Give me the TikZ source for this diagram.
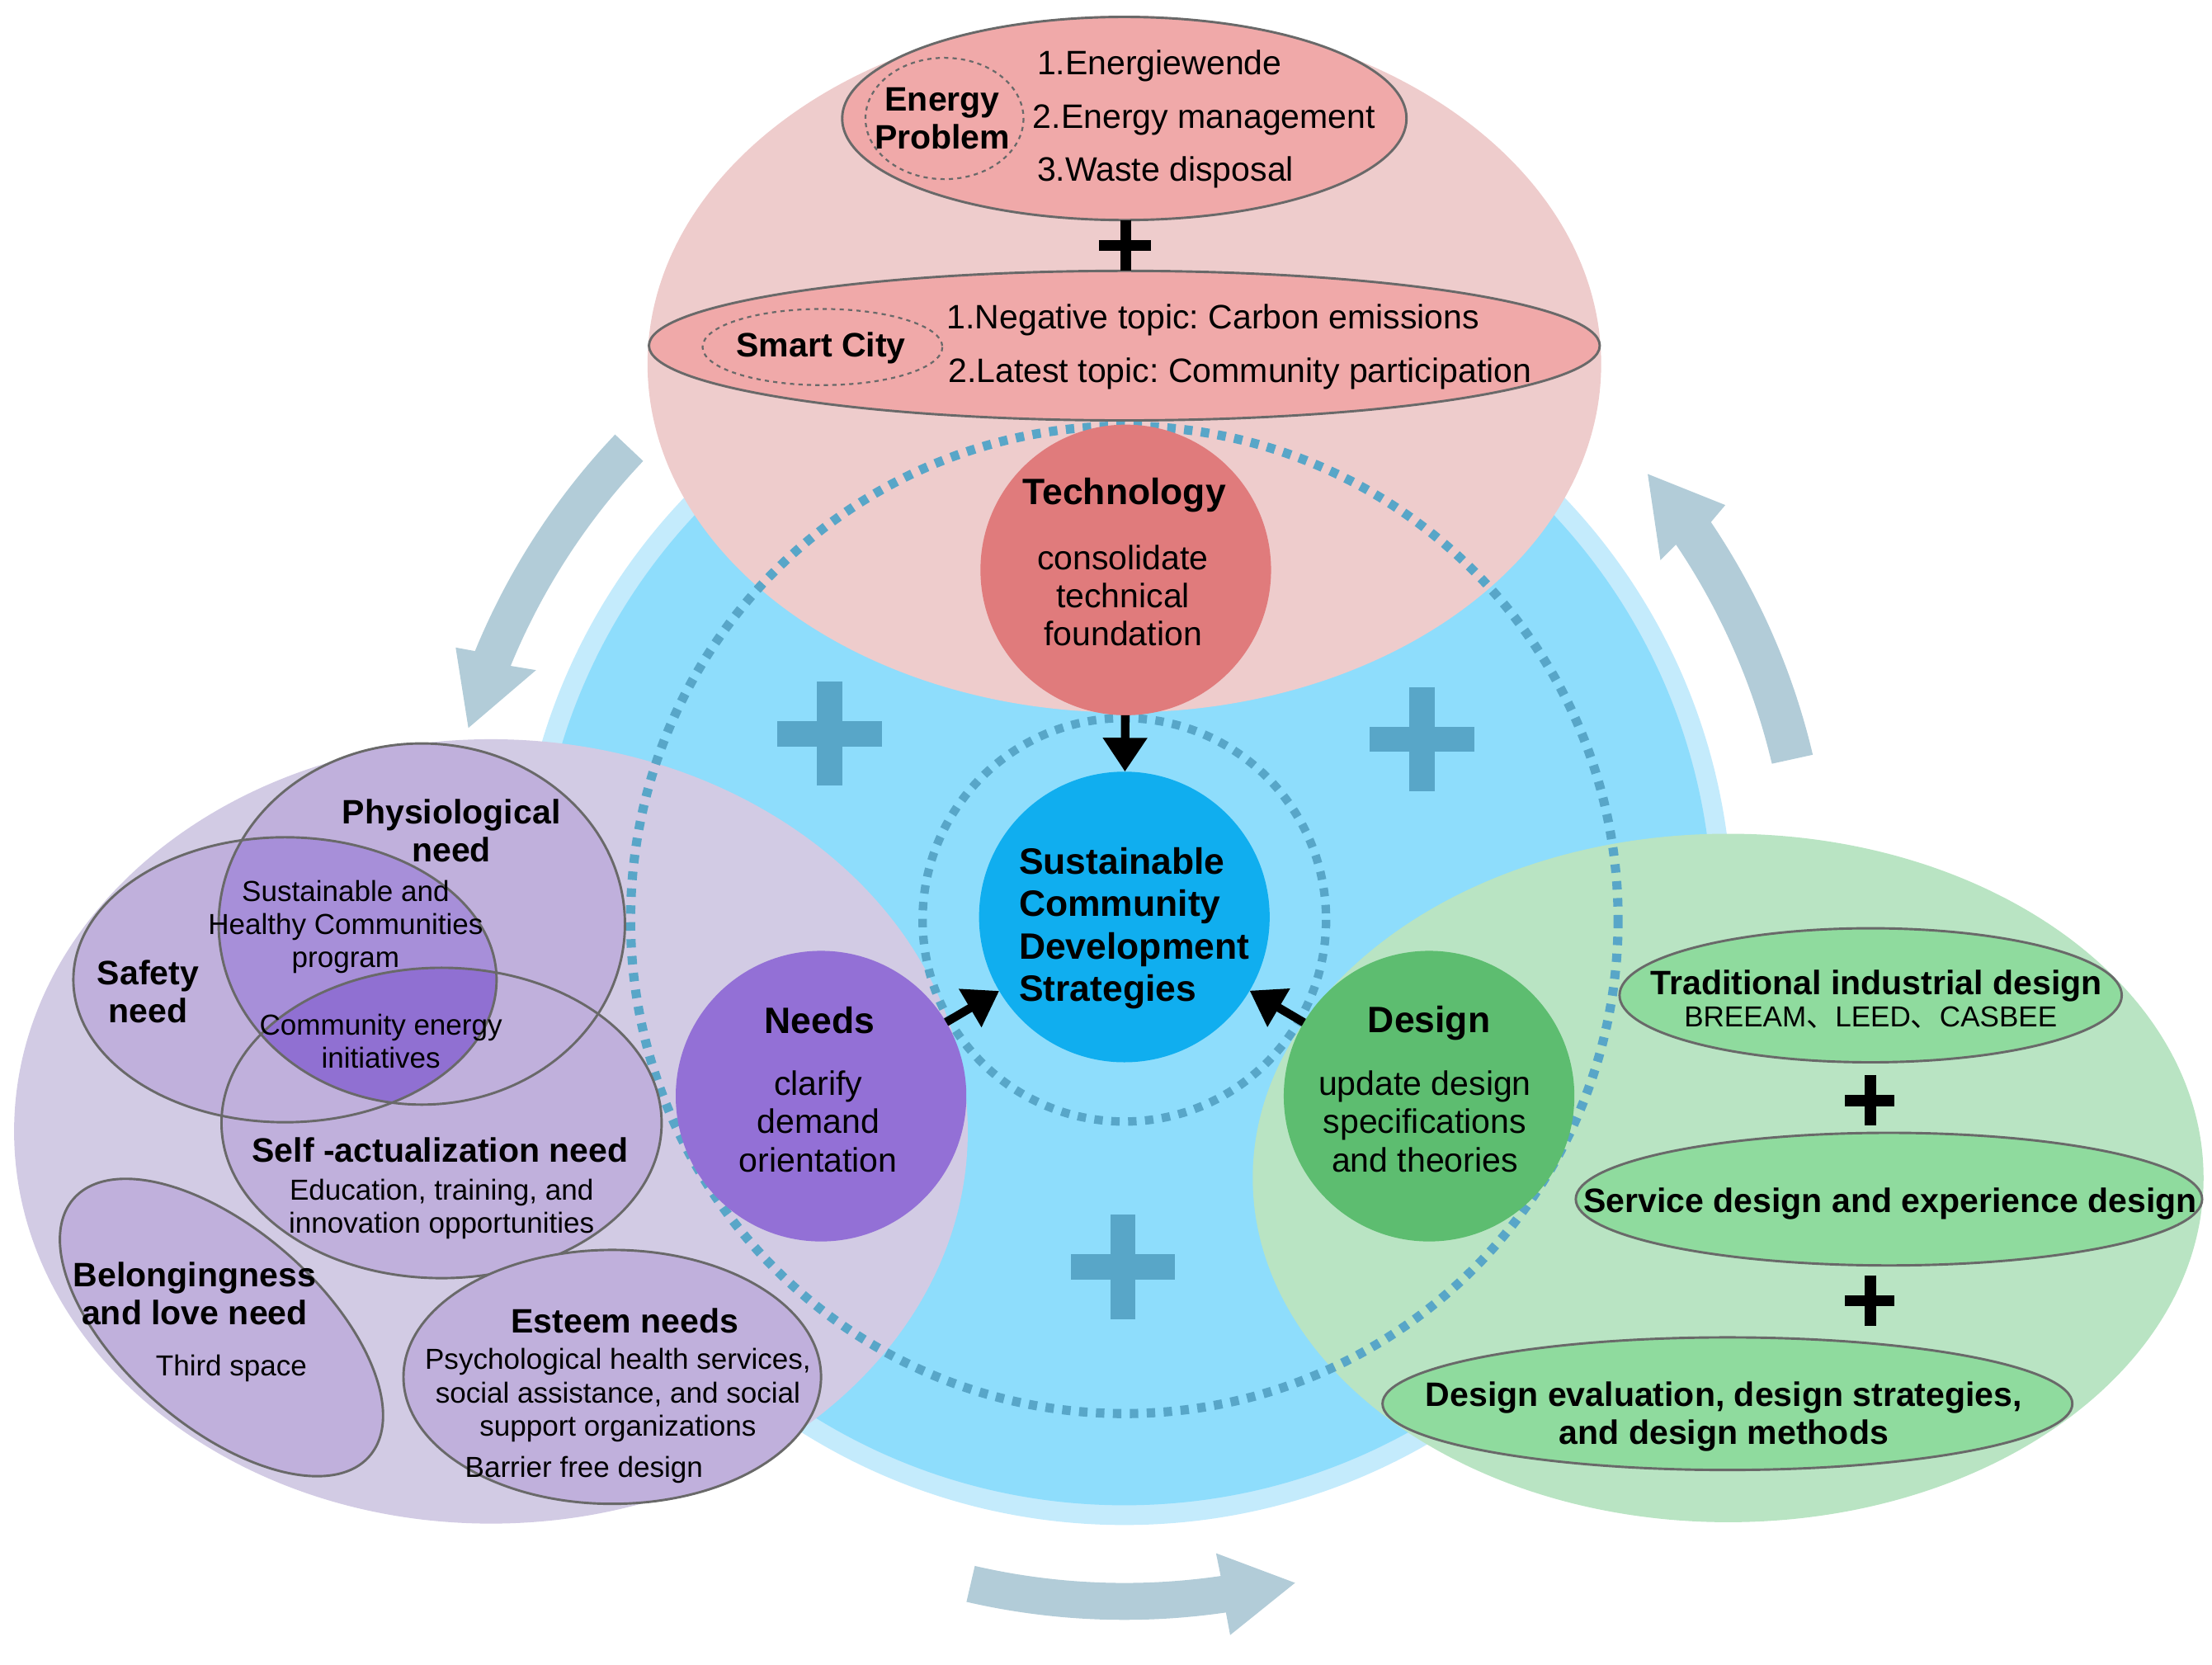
\documentclass[tikz,border=0pt]{standalone}
\usepackage{fontspec}
\setmainfont{Liberation Sans}
\newfontfamily\cjk{Noto Sans CJK SC}
\usetikzlibrary{arrows.meta}
\AtBeginDocument{\frenchspacing}
\definecolor{ringlight}{HTML}{C4EBFC}
\definecolor{ringblue}{HTML}{8EDDFC}
\definecolor{dotblue}{HTML}{58A6C8}
\definecolor{cyclegrey}{HTML}{B2CCD8}
\definecolor{corblue}{HTML}{10AEEF}
\definecolor{pinkbig}{HTML}{EECCCC}
\definecolor{pinksub}{HTML}{F0A9A9}
\definecolor{pinkhub}{HTML}{E07B7C}
\definecolor{lilacbig}{HTML}{D2CBE4}
\definecolor{lilacsub}{HTML}{C0B0DC}
\definecolor{lilacmid}{HTML}{A78FD9}
\definecolor{lilacdark}{HTML}{9070D2}
\definecolor{lilachub}{HTML}{9370D6}
\definecolor{greenbig}{HTML}{B9E4C3}
\definecolor{greensub}{HTML}{8FDB9E}
\definecolor{greenhub}{HTML}{5DBD70}
\definecolor{edge}{HTML}{696969}
\tikzset{
	hub/.style={circle,minimum size=206pt,inner sep=0pt,outer sep=0pt},
	rim/.style={draw=edge,line width=1.7pt},
	thindash/.style={draw=edge,line width=1.3pt,dash pattern=on 3pt off 3pt},
	cycle arrow/.style={fill=cyclegrey},
	bigplus/.style={draw=dotblue,line width=18pt},
	smallplus/.style={draw=black,line width=8pt},
	pointer/.style={line width=6pt,-{Triangle[width=30pt,length=24pt]}},
	txt/.style={inner sep=0pt,align=center,font=\fontsize{24}{27}\selectfont},
	small/.style={inner sep=0pt,align=center,font=\fontsize{20.5}{23.5}\selectfont},
	head/.style={inner sep=0pt,align=center,font=\fontsize{24}{27}\selectfont\bfseries},
	title/.style={inner sep=0pt,align=center,font=\fontsize{26}{30}\selectfont\bfseries},
}
\begin{document}
\begin{tikzpicture}[x=1pt,y=-1pt]
	\useasboundingbox (0,0) rectangle (1568,1180);
	\fill[ringlight] (797,650) circle[radius=431];
	\fill[ringblue] (797,650) circle[radius=417];
	\fill[cycle arrow] (436,308) arc[start angle=223.5, end angle=202.3, radius=497] -- (323,459) -- (332,516) -- (380,475) -- (362,472) arc[start angle=202.3, end angle=223.5, radius=470] -- cycle;
	\fill[cycle arrow] (1285,535) arc[start angle=-13.3, end angle=-34, radius=501] -- (1223,358) -- (1168,336) -- (1177,397) -- (1188,386) arc[start angle=-34, end angle=-13.3, radius=472] -- cycle;
	\fill[cycle arrow] (691,1110) arc[start angle=103, end angle=81.7, radius=472] -- (862,1101) -- (918,1122) -- (872,1159) -- (869,1143) arc[start angle=81.7, end angle=103, radius=498] -- cycle;
	\foreach \x/\y in {588/520,1008/524,796/898} {
		\draw[bigplus] (\x-37,\y) -- (\x+37,\y);
		\draw[bigplus] (\x,\y-37) -- (\x,\y+37);
	}
	\fill[pinkbig] (797,258) ellipse[x radius=338, y radius=247];
	\fill[lilacbig] (348,802) ellipse[x radius=338, y radius=278];
	\fill[greenbig] (1225,835) ellipse[x radius=337, y radius=244];
	\draw[dotblue,line width=6.5pt,dash pattern=on 6pt off 6pt] (797,652) circle[radius=350];
	\draw[dotblue,line width=6pt,dash pattern=on 6pt off 6pt] (797,652) circle[radius=143];

	\path[rim,fill=pinksub] (797,84) ellipse[x radius=200, y radius=72];
	\path[thindash] (669.5,84) ellipse[x radius=56, y radius=43];
	\path[rim,fill=pinksub] (797,245) ellipse[x radius=337, y radius=53];
	\path[thindash] (583,246) ellipse[x radius=85, y radius=27];
	\draw[smallplus] (779,174) -- (816,174);
	\draw[smallplus] (798,156) -- (798,192);

	\fill[lilacsub] (299,655) ellipse[x radius=144, y radius=128];
	\fill[lilacsub] (202,694.5) ellipse[x radius=150, y radius=101];
	\fill[lilacsub] (313,796) ellipse[x radius=156, y radius=110];
	\begin{scope}
		\clip (299,655) ellipse[x radius=144, y radius=128];
		\fill[lilacmid] (202,694.5) ellipse[x radius=150, y radius=101];
		\clip (202,694.5) ellipse[x radius=150, y radius=101];
		\fill[lilacdark] (313,796) ellipse[x radius=156, y radius=110];
	\end{scope}
	\draw[rim] (299,655) ellipse[x radius=144, y radius=128];
	\draw[rim] (202,694.5) ellipse[x radius=150, y radius=101];
	\draw[rim] (313,796) ellipse[x radius=156, y radius=110];
	\path[rim,fill=lilacsub,rotate around={-41:(157,941)}] (157,941) ellipse[x radius=139, y radius=70];
	\path[rim,fill=lilacsub] (434,976) ellipse[x radius=148, y radius=90];

	\path[rim,fill=greensub] (1326,705.5) ellipse[x radius=178, y radius=47.5];
	\path[rim,fill=greensub] (1339,850) ellipse[x radius=222, y radius=47];
	\path[rim,fill=greensub] (1224.5,995) ellipse[x radius=244.5, y radius=47];
	\foreach \y in {780,922} {
		\draw[smallplus] (1308,\y) -- (1343,\y);
		\draw[smallplus] (1326,\y-18) -- (1326,\y+18);
	}

	\node[hub,fill=pinkhub] (tech) at (798,404) {};
	\node[hub,fill=corblue] (core) at (797,650) {};
	\node[hub,fill=lilachub] (needs) at (582,777) {};
	\node[hub,fill=greenhub] (design) at (1013,777) {};
	\draw[pointer] (tech) -- (core);
	\draw[pointer] (needs) -- (core);
	\draw[pointer] (design) -- (core);

	\node[head] (energyname) at (668,84) {Energy\\Problem};
	\node[txt,anchor=west] (energy1) at (735,47) {1.Energiewende};
	\node[txt,anchor=west] (energy2) at (732,85) {2.Energy management};
	\node[txt,anchor=west] (energy3) at (735,122) {3.Waste disposal};
	\node[head] (smartname) at (582,247) {Smart City};
	\node[txt,anchor=west] (smart1) at (671,227) {1.Negative topic: Carbon emissions};
	\node[txt,anchor=west] (smart2) at (672,265) {2.Latest topic: Community participation};

	\node[title] (techhead) at (797,351) {Technology};
	\node[txt] (techbody) at (796,422) {consolidate\\technical\\foundation};
	\node[title,align=left] (corename) at (804,658) {Sustainable\\Community\\Development\\Strategies};
	\node[title] (needshead) at (581,723) {Needs};
	\node[txt] (needsbody) at (580,795) {clarify\\demand\\orientation};
	\node[title] (designhead) at (1013,725) {Design};
	\node[txt] (designbody) at (1010,795) {update design\\specifications\\and theories};

	\node[head] (physio) at (320,589) {Physiological\\need};
	\node[small] (shc) at (245,657) {Sustainable and\\Healthy Communities\\program};
	\node[head] (safety) at (105,703) {Safety\\need};
	\node[small] (cei) at (270,738) {Community energy\\initiatives};
	\node[head] (selfhead) at (312,815) {Self -actualization need};
	\node[small] (selfbody) at (313,857) {Education, training, and\\innovation opportunities};
	\node[head] (belong) at (138,917) {Belongingness\\and love need};
	\node[small] (third) at (164,970) {Third space};
	\node[head] (esteemhead) at (443,936) {Esteem needs};
	\node[small] (esteembody) at (438,989) {Psychological health services,\\social assistance, and social\\support organizations};
	\node[small] (barrier) at (414,1042) {Barrier free design};

	\node[head] (tradhead) at (1330,699) {Traditional industrial design};
	\node[small] (tradbody) at (1326,721) {BREEAM{\cjk 、}LEED{\cjk 、}CASBEE};
	\node[head] (service) at (1340,853) {Service design and experience design};
	\node[head] (evaluation) at (1222,1004) {Design evaluation, design strategies,\\and design methods};
\end{tikzpicture}
\end{document}
